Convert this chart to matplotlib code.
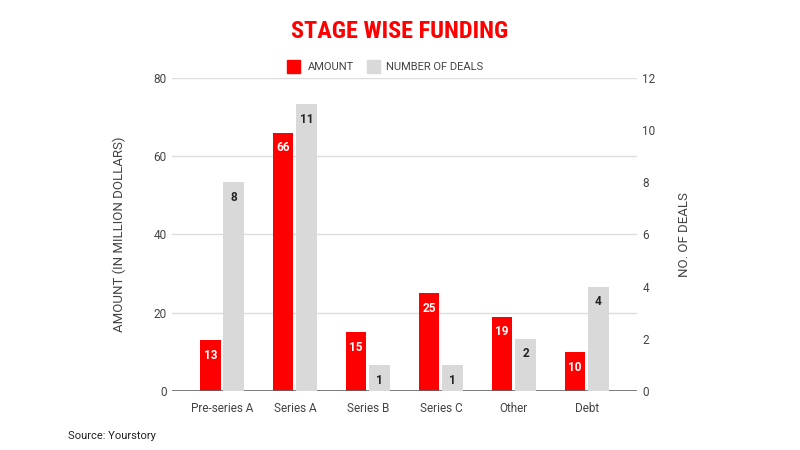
import matplotlib.pyplot as plt
import numpy as np
from matplotlib import font_manager

plt.rcParams['font.family'] = ['Roboto', 'DejaVu Sans']

## Chart data
stages = ['Pre-series A', 'Series A', 'Series B', 'Series C', 'Other', 'Debt']
amount = [13, 66, 15, 25, 19, 10]
deals = [8, 11, 1, 1, 2, 4]

red = '#ff0000'
grey = '#d9d9d9'
txt = '#444444'

# pick a narrow face for the title if one exists
names = set(f.name for f in font_manager.fontManager.ttflist)
title_font = 'Roboto'
for n in ['Roboto Condensed', 'Liberation Sans Narrow', 'DejaVu Sans Condensed']:
    if n in names:
        title_font = n
        break
title_size = 17.5 if title_font != 'Roboto' else 15

fig = plt.figure(figsize=(8, 4.5), dpi=100)
ax = fig.add_axes([0.215, 0.131, 0.581, 0.696])
ax2 = ax.twinx()

x = np.arange(len(stages))
w = 0.28
off = 0.16

ax.bar(x - off, amount, w, color=red, zorder=3)
ax2.bar(x + off, deals, w, color=grey, zorder=3)

ax.set_xlim(-0.685, 5.685)
ax.set_ylim(0, 80)
ax2.set_ylim(0, 12)
ax.set_yticks([0, 20, 40, 60, 80])
ax2.set_yticks([0, 2, 4, 6, 8, 10, 12])
ax.set_xticks(x)
ax.set_xticklabels(stages)

ax.grid(axis='y', color='#dddddd', linewidth=1, zorder=0)
for a in (ax, ax2):
    for s in ['top', 'left', 'right', 'bottom']:
        a.spines[s].set_visible(False)
    a.tick_params(length=0, labelsize=8.5, colors=txt)
ax.axhline(0, color='#666666', linewidth=1.2, zorder=4)
ax.tick_params(axis='x', pad=8)
ax.tick_params(axis='y', pad=4)
ax2.tick_params(axis='y', pad=4)

ax.set_ylabel('AMOUNT (IN MILLION DOLLARS)', fontsize=9.5, color=txt, labelpad=20)
ax2.set_ylabel('NO. OF DEALS', fontsize=9.5, color=txt, labelpad=16)

# data labels inside bars
for xi, v in zip(x, amount):
    ax.text(xi - off, v - 2.2, str(v), ha='center', va='top', color='white',
            fontsize=8.5, fontweight='bold', zorder=5)
for xi, v in zip(x, deals):
    ax2.text(xi + off, v - 0.33, str(v), ha='center', va='top', color='#222222',
             fontsize=8.5, fontweight='bold', zorder=5)

fig.text(0.5, 1 - 32 / 450, 'STAGE WISE FUNDING', ha='center', va='center', color=red,
         fontsize=title_size, fontweight='bold', family=[title_font, 'DejaVu Sans'])

# legend
fig.patches.append(plt.Rectangle((287 / 800, 1 - 73 / 450), 13 / 800, 13 / 450,
                                 transform=fig.transFigure, color=red))
fig.text(308 / 800, 1 - 67 / 450, 'AMOUNT', fontsize=8, color=txt, va='center')
fig.patches.append(plt.Rectangle((367 / 800, 1 - 73 / 450), 13 / 800, 13 / 450,
                                 transform=fig.transFigure, color=grey))
fig.text(386 / 800, 1 - 67 / 450, 'NUMBER OF DEALS', fontsize=8, color=txt, va='center')

fig.text(68 / 800, 1 - 436 / 450, 'Source: Yourstory', fontsize=8, color='#222222', va='center')

fig.savefig('out.png', dpi=100)
